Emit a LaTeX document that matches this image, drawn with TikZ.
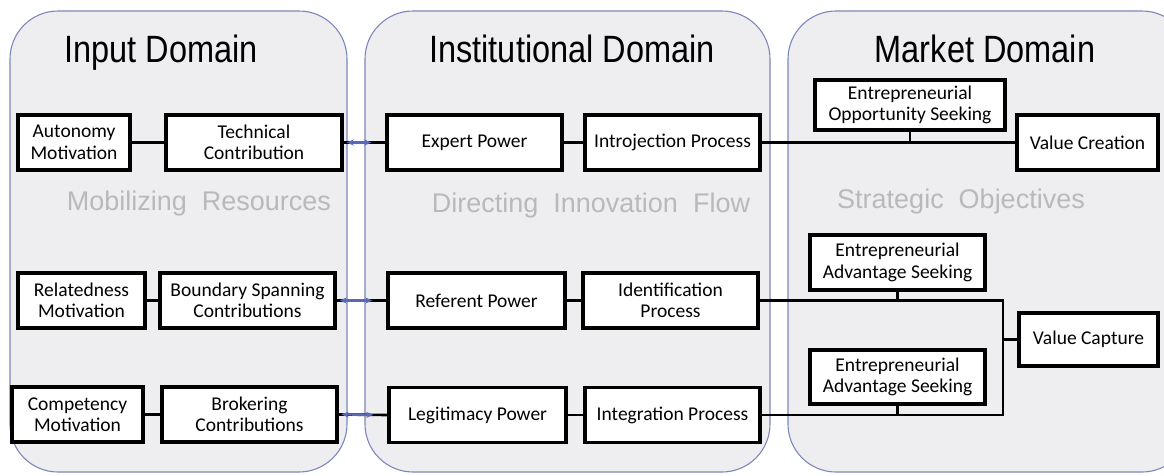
\documentclass[tikz,border=0pt]{standalone}
\usepackage{fontspec}
\setmainfont{Carlito}
\newfontfamily\headfont{Liberation Sans}
\usetikzlibrary{arrows.meta}
\definecolor{panelfill}{HTML}{EEEEF1}
\definecolor{panelline}{HTML}{7C88BC}
\definecolor{subgray}{HTML}{B9B9B9}
\definecolor{linkblue}{HTML}{5A68B8}
\newcommand{\tallhead}[1]{\scalebox{1}[1.17]{#1}}
\begin{document}
\begin{tikzpicture}[x=1pt,y=-1pt,
  panel/.style={draw=panelline,line width=1.1pt,fill=panelfill,rounded corners=48pt},
  heading/.style={font=\headfont\fontsize{32.5}{36}\selectfont,text=black,anchor=base,inner sep=0pt},
  subhead/.style={font=\headfont\fontsize{27}{30}\selectfont,text=subgray,anchor=base,inner sep=0pt},
  box/.style={draw=black,line width=3.4pt,fill=white,align=center,inner sep=1pt,
    font=\fontsize{19.5}{21.5}\selectfont,minimum height=55pt},
  link/.style={draw=black,line width=2.6pt},
  bluelink/.style={draw=linkblue,line width=2.2pt,{Stealth[length=7pt,width=6pt]}-{Stealth[length=7pt,width=6pt]},shorten <=3pt,shorten >=14pt}]
\useasboundingbox (0,0) rectangle (1164,475);
\fill[white] (0,0) rectangle (1164,475);

% three domain panels
\draw[panel] (10,11) rectangle (347,472);
\draw[panel] (365,11) rectangle (770,472);
\draw[panel] (788,11) rectangle (1190,472);
\fill[white] (1164,0) rectangle (1200,475);

\node[heading] (hin) at (161,62) {\tallhead{Input Domain}};
\node[heading] (hinst) at (572,62) {\tallhead{Institutional Domain}};
\node[heading] (hmkt) at (985,62) {\tallhead{Market Domain}};

\node[subhead] (sin) at (199,210) {Mobilizing\ \ Resources};
\node[subhead] (sinst) at (591,212) {Directing\ \ Innovation\ \ Flow};
\node[subhead] (smkt) at (961,208) {Strategic\ \ Objectives};

% row 1
\node[box,minimum width=112pt] (am) at (74,142.5) {Autonomy\\Motivation};
\node[box,minimum width=176pt] (tc) at (254,142.5) {Technical\\Contribution};
\node[box,minimum width=175pt] (ep) at (474.5,142.5) {Expert Power};
\node[box,minimum width=175pt] (ip) at (672.5,142.5) {Introjection Process};
\node[box,minimum width=190pt,minimum height=50pt] (eos) at (910,105) {Entrepreneurial\\Opportunity Seeking};
\node[box,minimum width=141pt] (vc) at (1087.5,142.5) {Value Creation};

% row 2
\node[box,minimum width=127pt] (rm) at (81.5,300.5) {Relatedness\\Motivation};
\node[box,minimum width=175pt] (bs) at (247.5,300.5) {Boundary Spanning\\Contributions};
\node[box,minimum width=177pt] (rp) at (476.5,300.5) {Referent Power};
\node[box,minimum width=175pt] (idp) at (670.5,300.5) {Identification\\Process};
\node[box,minimum width=175pt] (eas1) at (897.5,262.5) {Entrepreneurial\\Advantage Seeking};
\node[box,minimum width=139pt,minimum height=53pt] (vcap) at (1088.5,339.5) {Value Capture};
\node[box,minimum width=175pt,minimum height=54pt] (eas2) at (897.5,377) {Entrepreneurial\\Advantage Seeking};

% row 3
\node[box,minimum width=131pt] (cm) at (77.5,414.5) {Competency\\Motivation};
\node[box,minimum width=175pt] (bc) at (249.5,414.5) {Brokering\\Contributions};
\node[box,minimum width=177pt] (lp) at (477.5,415) {Legitimacy Power};
\node[box,minimum width=175pt] (ig) at (672.5,415) {Integration Process};

\coordinate (vcj) at (1003,358);

% connectors, row 1
\draw[link] (am.east) -- (tc.west);
\draw[link] (tc.east) -- (ep.west);
\draw[bluelink] (tc.east) -- (ep.west);
\draw[link] (ep.east) -- (ip.west);
\draw[link] (ip.east) -- (vc.west);
\draw[link] (eos.south) -- (eos.south |- ip.east);

% connectors, row 2
\draw[link] (rm.east) -- (bs.west);
\draw[link] (bs.east) -- (rp.west);
\draw[bluelink] (bs.east) -- (rp.west);
\draw[link] (rp.east) -- (idp.west);
\draw[link] (idp.east) -| (vcj) |- (ig.east);
\draw[link] (vcj |- vcap.west) -- (vcap.west);
\draw[link] (eas1.south) -- (eas1.south |- idp.east);
\draw[link] (eas2.south) -- (eas2.south |- ig.east);

% connectors, row 3
\draw[link] (cm.east) -- (bc.west);
\draw[link] (bc.east) -- (lp.west);
\draw[bluelink] (bc.east) -- (lp.west);
\draw[link] (lp.east) -- (ig.west);
\end{tikzpicture}
\end{document}
